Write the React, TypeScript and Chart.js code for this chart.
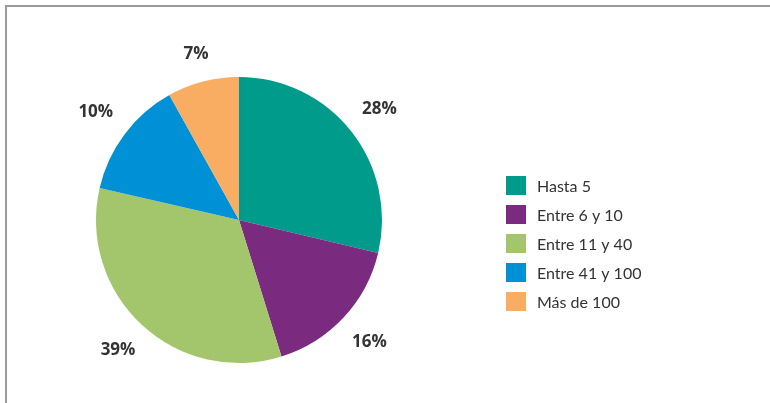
import React, { useEffect, useRef } from "react";
import { Chart, registerables } from "chart.js";

Chart.register(...registerables);

const categories = ["Hasta 5", "Entre 6 y 10", "Entre 11 y 40", "Entre 41 y 100", "Más de 100"];
// slice shares as drawn in the picture (degrees of the pie converted to %)
const sliceShares = [28.7, 16.5, 33.4, 13.3, 8.1];
// percentages printed beside the slices
const percentLabels = ["28%", "16%", "39%", "10%", "7%"];
const sliceColors = ["#009B8A", "#7B2B7F", "#A3C66C", "#0090D5", "#F9AD63"];

const TEXT_COLOR = "#333333";

const outsideLabels = {
  id: "outsideLabels",
  afterDatasetsDraw(chart: any) {
    const ctx = chart.ctx;
    const meta = chart.getDatasetMeta(0);
    ctx.save();
    ctx.font = "700 17px 'Open Sans'";
    ctx.fillStyle = TEXT_COLOR;
    ctx.textAlign = "center";
    ctx.textBaseline = "middle";
    meta.data.forEach((arc: any, i: number) => {
      const p = arc.getProps(["x", "y", "startAngle", "endAngle", "outerRadius"], true);
      const mid = (p.startAngle + p.endAngle) / 2;
      const c = Math.cos(mid);
      const s = Math.sin(mid);
      const hw = ctx.measureText(percentLabels[i]).width / 2;
      const hh = 7;
      const d = p.outerRadius + 18 + Math.abs(c) * hw + Math.abs(s) * hh;
      ctx.fillText(percentLabels[i], p.x + c * d, p.y + s * d);
    });
    ctx.restore();
  },
};

const sideLegend = {
  id: "sideLegend",
  afterDraw(chart: any, _args: any, opts: any) {
    const ctx = chart.ctx;
    const labels: string[] = chart.data.labels;
    const colors: string[] = chart.data.datasets[0].backgroundColor;
    ctx.save();
    ctx.font = opts.font;
    ctx.textBaseline = "middle";
    ctx.textAlign = "left";
    labels.forEach((lab, i) => {
      const y = opts.top + i * opts.spacing;
      ctx.fillStyle = colors[i];
      ctx.fillRect(opts.left, y, opts.boxW, opts.boxH);
      ctx.fillStyle = TEXT_COLOR;
      ctx.fillText(lab, opts.textX, y + opts.boxH / 2 + 1);
    });
    ctx.restore();
  },
};

export default function App() {
  const ref = useRef<HTMLCanvasElement>(null);
  useEffect(() => {
    if (!ref.current) return;
    const chart = new Chart(ref.current, {
      type: "pie",
      data: {
        labels: categories,
        datasets: [
          {
            data: sliceShares,
            backgroundColor: sliceColors,
            borderWidth: 0,
            hoverOffset: 0,
          },
        ],
      },
      options: {
        responsive: false,
        animation: false,
        layout: { padding: { left: 96, right: 388, top: 77, bottom: 40 } },
        plugins: {
          legend: { display: false },
          tooltip: { enabled: false },
          sideLegend: {
            left: 506,
            top: 176,
            boxW: 20,
            boxH: 19,
            spacing: 29,
            textX: 537,
            font: "400 16px Lato",
          },
        } as any,
      },
      plugins: [outsideLabels, sideLegend],
    });
    return () => chart.destroy();
  }, []);

  return (
    <div style={{ position: "absolute", left: 0, top: 0, width: 770, height: 403, background: "#fff", overflow: "hidden" }}>
      <canvas ref={ref} width={770} height={403} style={{ position: "absolute", left: 0, top: 0 }} />
      <div
        style={{
          position: "absolute",
          left: 5,
          top: 5,
          right: 0,
          bottom: 0,
          borderTop: "2px solid #9a9a9a",
          borderLeft: "2px solid #9a9a9a",
          pointerEvents: "none",
        }}
      />
    </div>
  );
}
